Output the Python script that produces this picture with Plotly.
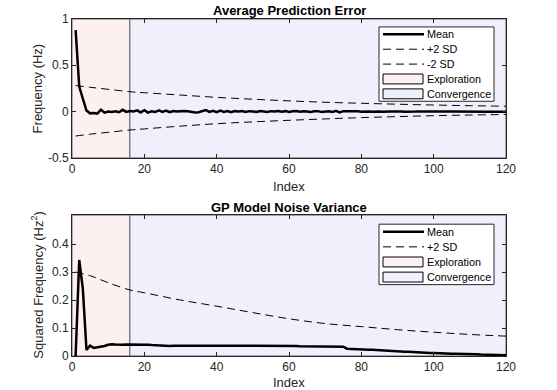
import plotly.graph_objects as go

# ---------------- data ----------------
idx = list(range(1, 121))

err_mean = [0.88, 0.27, 0.14, 0.01, -0.02, -0.015, -0.022, 0.02, -0.012, 0.0,
            -0.005, 0.002, -0.008, 0.018, -0.004, 0.005, 0.0, 0.012, -0.01, 0.014,
            -0.012, 0.002, -0.006, 0.012, -0.004, 0.01, -0.008, 0.006, 0.0, 0.004,
            0.006, 0.002, -0.006, -0.01, -0.008, 0.004, 0.016, -0.004, 0.008, -0.006,
            0.01, -0.004, 0.006, -0.008, 0.004, 0.0, 0.006, -0.004, 0.004, 0.0,
            -0.004, 0.006, 0.002, -0.004, 0.004, 0.0, 0.006, -0.002, 0.004, -0.004,
            0.002, 0.006, -0.002, 0.004, 0.0, -0.004, 0.002, 0.004, -0.004, 0.0,
            0.002, -0.006, 0.008, -0.01, 0.004, 0.002, 0.004, 0.0, 0.002, -0.002,
            0.003, 0.0, -0.002, 0.002, 0.001, -0.002, 0.002, 0.0, -0.001, 0.002,
            0.0, -0.002, 0.001, 0.0, -0.001, 0.001, 0.0, -0.002, 0.0, 0.001,
            -0.001, 0.0, 0.001, -0.001, 0.0, -0.001, 0.0, -0.001, -0.002, -0.001,
            -0.002, -0.001, -0.002, -0.002, -0.002, -0.002, -0.002, -0.002, -0.002, -0.002]

sd_idx = [1, 5, 10, 16, 20, 30, 40, 50, 60, 70, 80, 90, 100, 110, 120]
err_plus2 = [0.28, 0.262, 0.24, 0.214, 0.203, 0.178, 0.153, 0.133, 0.115, 0.1,
             0.089, 0.079, 0.07, 0.063, 0.057]
err_minus2 = [-0.265, -0.245, -0.225, -0.2, -0.188, -0.158, -0.132, -0.112, -0.095,
              -0.08, -0.066, -0.055, -0.045, -0.038, -0.032]

noise_mean = [0.0, 0.343, 0.24, 0.022, 0.037, 0.029, 0.031, 0.033, 0.036, 0.04,
              0.042, 0.041, 0.04, 0.04, 0.041, 0.041, 0.041, 0.041, 0.042, 0.041,
              0.04, 0.039, 0.038, 0.037, 0.037, 0.036, 0.036, 0.037, 0.037, 0.036,
              0.037, 0.037, 0.036, 0.036, 0.037, 0.037, 0.038, 0.038, 0.037, 0.037,
              0.037, 0.036, 0.036, 0.037, 0.037, 0.036, 0.036, 0.037, 0.037, 0.036,
              0.036, 0.036, 0.037, 0.036, 0.036, 0.036, 0.036, 0.036, 0.036, 0.036,
              0.036, 0.036, 0.035, 0.035, 0.035, 0.035, 0.035, 0.035, 0.035, 0.035,
              0.034, 0.034, 0.034, 0.034, 0.033, 0.026, 0.025, 0.024, 0.024, 0.023,
              0.023, 0.022, 0.022, 0.021, 0.021, 0.02, 0.02, 0.019, 0.018, 0.017,
              0.016, 0.015, 0.015, 0.014, 0.013, 0.013, 0.012, 0.012, 0.011, 0.011,
              0.01, 0.01, 0.009, 0.009, 0.008, 0.008, 0.008, 0.007, 0.007, 0.006,
              0.006, 0.006, 0.005, 0.005, 0.005, 0.004, 0.004, 0.004, 0.003, 0.003]
noise_plus2 = [0.30, 0.287, 0.262, 0.236, 0.226, 0.2, 0.178, 0.155, 0.133, 0.116,
               0.105, 0.094, 0.085, 0.077, 0.071]

explore_end = 16
x_lim = [0, 120]
err_ylim = [-0.5, 1.0]
noise_ylim = [0.0, 0.503]

err_yticks = [-0.5, 0, 0.5, 1]
err_yticklabels = ["-0.5", "0", "0.5", "1"]
noise_yticks = [0, 0.1, 0.2, 0.3, 0.4]
noise_yticklabels = ["0", "0.1", "0.2", "0.3", "0.4"]
x_ticks = [0, 20, 40, 60, 80, 100, 120]

err_legend = ["Mean", "+2 SD", "-2 SD", "Exploration", "Convergence"]
noise_legend = ["Mean", "+2 SD", "Exploration", "Convergence"]

# ---------------- style / geometry ----------------
FONT = "Liberation Sans, Arial, Helvetica, sans-serif"
AX = "rgb(38,38,38)"
PINK = "rgb(253,240,240)"
BLUE = "rgb(240,240,253)"
EDGE = "rgb(100,100,100)"
DASH = "8px,5px"

W, H = 557, 390
ML, MR, MT, MB = 72, 51, 16, 34
PW, PH = W - ML - MR, H - MT - MB


def px(xp):
    return (xp - ML) / PW


def py(yp):
    return (H - MB - yp) / PH


TOP_DOM = [py(156), 1.0]
BOT_DOM = [0.0, py(214)]

fig = go.Figure()


def add_regions(xa, ya, ylim):
    fig.add_trace(go.Scatter(
        x=[x_lim[0], explore_end, explore_end, x_lim[0], x_lim[0]],
        y=[ylim[0], ylim[0], ylim[1], ylim[1], ylim[0]],
        fill="toself", fillcolor=PINK, mode="lines",
        line=dict(color=EDGE, width=1), name="Exploration",
        xaxis=xa, yaxis=ya, showlegend=False, hoverinfo="skip"))
    fig.add_trace(go.Scatter(
        x=[explore_end, x_lim[1], x_lim[1], explore_end, explore_end],
        y=[ylim[0], ylim[0], ylim[1], ylim[1], ylim[0]],
        fill="toself", fillcolor=BLUE, mode="lines",
        line=dict(color=EDGE, width=1), name="Convergence",
        xaxis=xa, yaxis=ya, showlegend=False, hoverinfo="skip"))


# top panel
add_regions("x", "y", err_ylim)
fig.add_trace(go.Scatter(x=idx, y=err_mean, mode="lines", name="Mean",
                         line=dict(color="black", width=2.5),
                         xaxis="x", yaxis="y", showlegend=False))
fig.add_trace(go.Scatter(x=sd_idx, y=err_plus2, mode="lines", name="+2 SD",
                         line=dict(color="black", width=1, dash=DASH, shape="spline"),
                         xaxis="x", yaxis="y", showlegend=False))
fig.add_trace(go.Scatter(x=sd_idx, y=err_minus2, mode="lines", name="-2 SD",
                         line=dict(color="black", width=1, dash=DASH, shape="spline"),
                         xaxis="x", yaxis="y", showlegend=False))

# bottom panel
add_regions("x2", "y2", noise_ylim)
fig.add_trace(go.Scatter(x=idx, y=noise_mean, mode="lines", name="Mean",
                         line=dict(color="black", width=2.5),
                         xaxis="x2", yaxis="y2", showlegend=False))
fig.add_trace(go.Scatter(x=sd_idx, y=noise_plus2, mode="lines", name="+2 SD",
                         line=dict(color="black", width=1, dash=DASH, shape="spline"),
                         xaxis="x2", yaxis="y2", showlegend=False))

# ---------------- manual MATLAB-style legends ----------------
shapes = []
annotations = []


def build_legend(labels, box_left, box_top, row_h, box_right):
    n = len(labels)
    shapes.append(dict(type="rect", xref="paper", yref="paper",
                       x0=px(box_left), x1=px(box_right),
                       y0=py(box_top), y1=py(box_top + n * row_h),
                       fillcolor="white", line=dict(color=AX, width=1),
                       layer="above"))
    s0, s1 = box_left + 4, box_left + 45
    for i, lab in enumerate(labels):
        yc = box_top + row_h * (i + 0.5)
        if lab == "Mean":
            shapes.append(dict(type="line", xref="paper", yref="paper",
                               x0=px(s0), x1=px(s1), y0=py(yc), y1=py(yc),
                               line=dict(color="black", width=2.5)))
        elif "SD" in lab:
            shapes.append(dict(type="line", xref="paper", yref="paper",
                               x0=px(s0), x1=px(s1), y0=py(yc), y1=py(yc),
                               line=dict(color="black", width=1, dash=DASH)))
        else:
            col = PINK if lab == "Exploration" else BLUE
            shapes.append(dict(type="rect", xref="paper", yref="paper",
                               x0=px(s0), x1=px(s1 - 1), y0=py(yc - 5), y1=py(yc + 5),
                               fillcolor=col, line=dict(color="black", width=1)))
        annotations.append(dict(text=lab, xref="paper", yref="paper",
                                x=px(s1 + 1), y=py(yc), xanchor="left",
                                yanchor="middle", showarrow=False,
                                font=dict(family=FONT, size=10.8, color="black")))


build_legend(err_legend, 379, 24, 15, 494)
build_legend(noise_legend, 379, 223, 15.25, 494)

# ---------------- titles and labels ----------------
annotations += [
    dict(text="<b>Average Prediction Error</b>", x=0.5, y=py(7), xref="paper",
         yref="paper", xanchor="center", yanchor="middle", showarrow=False,
         font=dict(family=FONT, size=13, color="black")),
    dict(text="<b>GP Model Noise Variance</b>", x=0.5, y=py(206), xref="paper",
         yref="paper", xanchor="center", yanchor="middle", showarrow=False,
         font=dict(family=FONT, size=13, color="black")),
    dict(text="Index", x=0.5, y=py(185), xref="paper", yref="paper",
         xanchor="center", yanchor="middle", showarrow=False,
         font=dict(family=FONT, size=13, color=AX)),
    dict(text="Index", x=0.5, y=py(383), xref="paper", yref="paper",
         xanchor="center", yanchor="middle", showarrow=False,
         font=dict(family=FONT, size=13, color=AX)),
    dict(text="Frequency (Hz)", x=px(37), y=py(86), xref="paper", yref="paper",
         xanchor="center", yanchor="middle", textangle=-90,
         showarrow=False, font=dict(family=FONT, size=13, color=AX)),
    dict(text="Squared Frequency (Hz<sup>2</sup>)", x=px(37), y=py(285),
         xref="paper", yref="paper", xanchor="center", yanchor="middle",
         textangle=-90, showarrow=False,
         font=dict(family=FONT, size=13, color=AX)),
]

axis_common = dict(showgrid=False, zeroline=False, showline=True, linecolor=AX,
                   linewidth=1, mirror="ticks", ticks="inside", ticklen=4,
                   tickcolor=AX, tickfont=dict(family=FONT, size=12, color=AX))

fig.update_layout(
    width=W, height=H,
    margin=dict(l=ML, r=MR, t=MT, b=MB),
    paper_bgcolor="white", plot_bgcolor="white",
    font=dict(family=FONT, color=AX),
    showlegend=False,
    xaxis=dict(domain=[0, 1], range=x_lim, tickvals=x_ticks, anchor="y",
               **axis_common),
    yaxis=dict(domain=TOP_DOM, range=err_ylim, tickvals=err_yticks,
               ticktext=err_yticklabels, anchor="x", **axis_common),
    xaxis2=dict(domain=[0, 1], range=x_lim, tickvals=x_ticks, anchor="y2",
                **axis_common),
    yaxis2=dict(domain=BOT_DOM, range=noise_ylim, tickvals=noise_yticks,
                ticktext=noise_yticklabels, anchor="x2", **axis_common),
    shapes=shapes,
    annotations=annotations,
)

fig.write_html(
    "out.html",
    config={"displayModeBar": False},
    post_script="document.body.style.margin='0';document.body.style.overflow='hidden';",
)
